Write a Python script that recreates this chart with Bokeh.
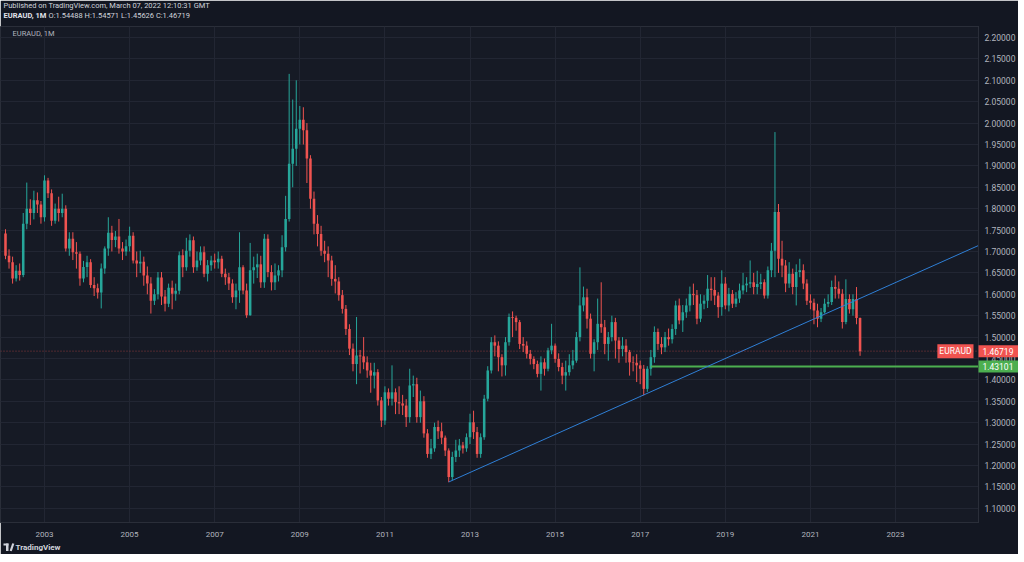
import numpy as np
import pandas as pd
from bokeh.plotting import figure
from bokeh.models import ColumnDataSource, Label, Span, FixedTicker, PrintfTickFormatter, Range1d
from bokeh.core.properties import value
from bokeh.embed import file_html
from bokeh.resources import INLINE

# ---------------- data (EURAUD monthly, Feb 2002 .. Mar 2022) ----------------
first_month = "2002-02-01"

opens = [
    1.742, 1.690, 1.675, 1.637, 1.655, 1.645, 1.765, 1.800, 1.790, 1.820, 1.810,
    1.780, 1.866, 1.836, 1.772, 1.800, 1.790, 1.800, 1.707, 1.730, 1.698, 1.695, 1.637,
    1.664, 1.675, 1.622, 1.614, 1.604, 1.660, 1.707, 1.744, 1.727, 1.735, 1.707, 1.700,
    1.712, 1.737, 1.679, 1.672, 1.676, 1.644, 1.625, 1.585, 1.600, 1.639, 1.595, 1.578,
    1.615, 1.601, 1.608, 1.691, 1.663, 1.702, 1.726, 1.663, 1.679, 1.698, 1.648, 1.668,
    1.679, 1.675, 1.683, 1.648, 1.640, 1.625, 1.593, 1.609, 1.663, 1.609, 1.551, 1.656,
    1.663, 1.670, 1.628, 1.730, 1.652, 1.628, 1.644, 1.656, 1.710, 1.776, 1.905, 1.940,
    1.987, 2.008, 1.983, 1.917, 1.823, 1.765, 1.741, 1.702, 1.695, 1.679, 1.636, 1.630,
    1.598, 1.566, 1.519, 1.473, 1.437, 1.457, 1.455, 1.441, 1.422, 1.410, 1.418, 1.352,
    1.305, 1.371, 1.356, 1.371, 1.348, 1.345, 1.340, 1.313, 1.387, 1.390, 1.313, 1.350,
    1.275, 1.227, 1.240, 1.290, 1.280, 1.265, 1.235, 1.173, 1.220, 1.235, 1.247, 1.240,
    1.266, 1.301, 1.278, 1.227, 1.266, 1.356, 1.422, 1.488, 1.480, 1.453, 1.434, 1.488,
    1.547, 1.545, 1.535, 1.484, 1.480, 1.461, 1.449, 1.437, 1.414, 1.441, 1.426, 1.469,
    1.480, 1.449, 1.430, 1.410, 1.418, 1.434, 1.445, 1.500, 1.574, 1.593, 1.543, 1.461,
    1.488, 1.531, 1.523, 1.484, 1.500, 1.535, 1.492, 1.472, 1.480, 1.465, 1.441, 1.440,
    1.434, 1.426, 1.379, 1.426, 1.453, 1.512, 1.484, 1.476, 1.500, 1.495, 1.519, 1.574,
    1.539, 1.558, 1.574, 1.601, 1.598, 1.543, 1.578, 1.585, 1.613, 1.610, 1.597, 1.570,
    1.625, 1.574, 1.601, 1.578, 1.590, 1.609, 1.621, 1.625, 1.628, 1.617, 1.624, 1.628,
    1.597, 1.656, 1.702, 1.792, 1.683, 1.667, 1.625, 1.648, 1.617, 1.652, 1.656, 1.625,
    1.585, 1.580, 1.562, 1.543, 1.558, 1.578, 1.582, 1.617, 1.613, 1.601, 1.535, 1.589,
    1.565, 1.589, 1.54488,
]

highs = [
    1.752, 1.705, 1.688, 1.668, 1.672, 1.790, 1.861, 1.822, 1.842, 1.838, 1.818,
    1.878, 1.872, 1.845, 1.812, 1.828, 1.835, 1.808, 1.745, 1.745, 1.722, 1.700, 1.678,
    1.690, 1.682, 1.640, 1.625, 1.672, 1.712, 1.780, 1.760, 1.748, 1.776, 1.722, 1.728,
    1.758, 1.745, 1.700, 1.702, 1.688, 1.665, 1.640, 1.612, 1.652, 1.652, 1.610, 1.625,
    1.632, 1.625, 1.700, 1.705, 1.732, 1.740, 1.735, 1.700, 1.712, 1.712, 1.680, 1.690,
    1.695, 1.700, 1.690, 1.660, 1.650, 1.635, 1.625, 1.745, 1.668, 1.625, 1.720, 1.688,
    1.695, 1.690, 1.741, 1.740, 1.668, 1.672, 1.668, 1.738, 1.830, 2.115, 2.055, 2.100,
    2.040, 2.037, 2.000, 1.925, 1.840, 1.785, 1.760, 1.725, 1.712, 1.690, 1.668, 1.640,
    1.610, 1.575, 1.530, 1.485, 1.547, 1.470, 1.500, 1.455, 1.440, 1.440, 1.425, 1.360,
    1.385, 1.380, 1.434, 1.380, 1.385, 1.365, 1.355, 1.426, 1.410, 1.405, 1.375, 1.362,
    1.285, 1.262, 1.300, 1.305, 1.300, 1.270, 1.240, 1.232, 1.260, 1.262, 1.255, 1.275,
    1.321, 1.328, 1.290, 1.275, 1.365, 1.432, 1.500, 1.504, 1.490, 1.460, 1.500, 1.555,
    1.560, 1.550, 1.540, 1.500, 1.490, 1.470, 1.455, 1.445, 1.455, 1.450, 1.475, 1.531,
    1.485, 1.462, 1.440, 1.445, 1.460, 1.470, 1.512, 1.663, 1.618, 1.613, 1.555, 1.495,
    1.590, 1.628, 1.540, 1.512, 1.550, 1.545, 1.500, 1.500, 1.495, 1.470, 1.455, 1.460,
    1.445, 1.435, 1.432, 1.470, 1.525, 1.520, 1.500, 1.512, 1.520, 1.530, 1.585, 1.590,
    1.575, 1.590, 1.618, 1.625, 1.610, 1.600, 1.598, 1.645, 1.640, 1.640, 1.605, 1.656,
    1.640, 1.615, 1.610, 1.605, 1.625, 1.650, 1.640, 1.679, 1.650, 1.655, 1.648, 1.635,
    1.665, 1.720, 1.979, 1.811, 1.725, 1.680, 1.675, 1.660, 1.670, 1.683, 1.670, 1.635,
    1.600, 1.590, 1.578, 1.568, 1.590, 1.600, 1.632, 1.644, 1.630, 1.612, 1.635, 1.600,
    1.600, 1.617, 1.54571,
]

lows = [
    1.682, 1.660, 1.625, 1.630, 1.632, 1.640, 1.752, 1.762, 1.775, 1.790, 1.765,
    1.770, 1.825, 1.760, 1.765, 1.770, 1.780, 1.700, 1.690, 1.680, 1.660, 1.620, 1.628,
    1.640, 1.615, 1.596, 1.590, 1.567, 1.648, 1.690, 1.700, 1.710, 1.695, 1.680, 1.690,
    1.700, 1.672, 1.640, 1.650, 1.620, 1.600, 1.555, 1.575, 1.588, 1.575, 1.560, 1.570,
    1.565, 1.585, 1.600, 1.640, 1.655, 1.688, 1.650, 1.655, 1.668, 1.640, 1.630, 1.655,
    1.660, 1.660, 1.640, 1.622, 1.610, 1.580, 1.565, 1.580, 1.600, 1.545, 1.550, 1.625,
    1.638, 1.615, 1.615, 1.640, 1.609, 1.610, 1.630, 1.640, 1.700, 1.770, 1.850, 1.900,
    1.950, 1.950, 1.860, 1.800, 1.740, 1.712, 1.690, 1.675, 1.640, 1.620, 1.602, 1.585,
    1.555, 1.505, 1.458, 1.420, 1.390, 1.415, 1.425, 1.405, 1.370, 1.380, 1.340, 1.290,
    1.295, 1.340, 1.340, 1.320, 1.320, 1.318, 1.290, 1.300, 1.360, 1.300, 1.300, 1.265,
    1.218, 1.215, 1.232, 1.262, 1.250, 1.222, 1.161, 1.165, 1.208, 1.220, 1.228, 1.232,
    1.250, 1.262, 1.218, 1.218, 1.260, 1.350, 1.415, 1.455, 1.420, 1.408, 1.410, 1.480,
    1.500, 1.515, 1.472, 1.465, 1.450, 1.436, 1.425, 1.406, 1.375, 1.410, 1.420, 1.460,
    1.440, 1.420, 1.390, 1.375, 1.410, 1.425, 1.440, 1.490, 1.560, 1.520, 1.450, 1.420,
    1.470, 1.510, 1.460, 1.445, 1.490, 1.450, 1.440, 1.455, 1.440, 1.410, 1.420, 1.395,
    1.390, 1.364, 1.372, 1.410, 1.440, 1.470, 1.460, 1.465, 1.480, 1.485, 1.505, 1.530,
    1.512, 1.545, 1.560, 1.575, 1.530, 1.535, 1.565, 1.568, 1.585, 1.575, 1.545, 1.550,
    1.565, 1.560, 1.568, 1.570, 1.580, 1.600, 1.605, 1.615, 1.600, 1.600, 1.612, 1.590,
    1.590, 1.640, 1.640, 1.650, 1.640, 1.605, 1.615, 1.600, 1.574, 1.640, 1.612, 1.575,
    1.565, 1.530, 1.523, 1.535, 1.555, 1.570, 1.575, 1.590, 1.590, 1.520, 1.530, 1.555,
    1.550, 1.530, 1.45626,
]

closes = [
    1.690, 1.675, 1.637, 1.655, 1.645, 1.765, 1.800, 1.790, 1.820, 1.810, 1.780,
    1.866, 1.836, 1.772, 1.800, 1.790, 1.800, 1.707, 1.730, 1.698, 1.695, 1.637, 1.664,
    1.675, 1.622, 1.614, 1.604, 1.660, 1.707, 1.744, 1.727, 1.735, 1.707, 1.700, 1.712,
    1.737, 1.679, 1.672, 1.676, 1.644, 1.625, 1.585, 1.600, 1.639, 1.595, 1.578, 1.615,
    1.601, 1.608, 1.691, 1.663, 1.702, 1.726, 1.663, 1.679, 1.698, 1.648, 1.668, 1.679,
    1.675, 1.683, 1.648, 1.640, 1.625, 1.593, 1.609, 1.663, 1.609, 1.551, 1.656, 1.663,
    1.670, 1.628, 1.730, 1.652, 1.628, 1.644, 1.656, 1.710, 1.776, 1.905, 1.940, 1.987,
    2.008, 1.983, 1.917, 1.823, 1.765, 1.741, 1.702, 1.695, 1.679, 1.636, 1.630, 1.598,
    1.566, 1.519, 1.473, 1.437, 1.457, 1.455, 1.441, 1.422, 1.410, 1.418, 1.352, 1.305,
    1.371, 1.356, 1.371, 1.348, 1.345, 1.340, 1.313, 1.387, 1.390, 1.313, 1.350, 1.275,
    1.227, 1.240, 1.290, 1.280, 1.265, 1.235, 1.173, 1.220, 1.235, 1.247, 1.240, 1.266,
    1.301, 1.278, 1.227, 1.266, 1.356, 1.422, 1.488, 1.480, 1.453, 1.434, 1.488, 1.547,
    1.545, 1.535, 1.484, 1.480, 1.461, 1.449, 1.437, 1.414, 1.441, 1.426, 1.469, 1.480,
    1.449, 1.430, 1.410, 1.418, 1.434, 1.445, 1.500, 1.574, 1.593, 1.543, 1.461, 1.488,
    1.531, 1.523, 1.484, 1.500, 1.535, 1.492, 1.472, 1.480, 1.465, 1.441, 1.440, 1.434,
    1.426, 1.379, 1.426, 1.453, 1.512, 1.484, 1.476, 1.500, 1.495, 1.519, 1.574, 1.539,
    1.558, 1.574, 1.601, 1.598, 1.543, 1.578, 1.585, 1.613, 1.610, 1.597, 1.570, 1.625,
    1.574, 1.601, 1.578, 1.590, 1.609, 1.621, 1.625, 1.628, 1.617, 1.624, 1.628, 1.597,
    1.656, 1.702, 1.792, 1.683, 1.667, 1.625, 1.648, 1.617, 1.652, 1.656, 1.625, 1.585,
    1.580, 1.562, 1.543, 1.558, 1.578, 1.582, 1.617, 1.613, 1.601, 1.535, 1.589, 1.565,
    1.589, 1.54488, 1.46719,
]

year_ticks = [2003, 2005, 2007, 2009, 2011, 2013, 2015, 2017, 2019, 2021, 2023]
price_ticks = [1.10, 1.15, 1.20, 1.25, 1.30, 1.35, 1.40, 1.45, 1.50, 1.55, 1.60, 1.65,
               1.70, 1.75, 1.80, 1.85, 1.90, 1.95, 2.00, 2.05, 2.10, 2.15, 2.20]

last_price = 1.46719
support_level = 1.43101
support_start = 2017.25          # Apr 2017
trend_x = [2012.5, 2024.95]      # trendline anchors (Jul 2012 low -> right edge)
trend_y = [1.1615, 1.714]

tag_texts = ["1.46719", "1.43101"]
tag_prices = [last_price, support_level]
tag_colors = ["#f05350", "#4caf50"]

header_1 = "Published on TradingView.com, March 07, 2022 12:10:31 GMT"
header_2a = "EURAUD, 1M"
header_2b = "O:1.54488 H:1.54571 L:1.45626 C:1.46719"
pane_title = "EURAUD, 1M"
footer = "TradingView"

# ---------------- build ----------------
dates = pd.date_range(first_month, periods=len(closes), freq="MS")
xs = np.asarray(dates.year + (dates.month - 1) / 12.0, dtype=float)
o = np.array(opens); c = np.array(closes); h = np.array(highs); l = np.array(lows)
UP, DOWN = "#26a69a", "#ef5350"
colors = [UP if cc >= oo else DOWN for oo, cc in zip(o, c)]

src = ColumnDataSource(dict(x=xs, high=h, low=l, top=np.maximum(o, c),
                            bottom=np.minimum(o, c), color=colors))

X0, X1 = 2001.966, 2024.95
Y0, Y1 = 1.0668, 2.2257
FW, FH = 978, 496
TOP = 26
px_x = (X1 - X0) / FW     # data units per pixel
px_y = (Y1 - Y0) / FH


def cx(px):   # canvas pixel -> data x (frame starts at canvas x = 0)
    return X0 + px * px_x


def cy(py):   # canvas pixel -> data y (frame starts at canvas y = TOP)
    return Y1 - (py - TOP) * px_y


p = figure(frame_width=FW, frame_height=FH, x_range=Range1d(X0, X1), y_range=Range1d(Y0, Y1),
           output_backend="svg", toolbar_location=None, title=None,
           y_axis_location="right", min_border_left=0, min_border_right=38,
           min_border_top=TOP, min_border_bottom=32)

p.background_fill_color = "#161a25"
p.border_fill_color = "#131722"
p.outline_line_color = "#2a2e39"

font = "Roboto"
# axes
p.yaxis.ticker = FixedTicker(ticks=price_ticks)
p.yaxis.formatter = PrintfTickFormatter(format="%.5f")
p.xaxis.ticker = FixedTicker(ticks=year_ticks)
p.xaxis.formatter = PrintfTickFormatter(format="%d")
for ax in (p.xaxis[0], p.yaxis[0]):
    ax.major_tick_line_color = None
    ax.minor_tick_line_color = None
    ax.major_tick_out = 0
    ax.major_tick_in = 0
    ax.minor_tick_out = 0
    ax.axis_line_color = "#2a2e39"
    ax.major_label_text_color = "#b2b5be"
    ax.major_label_text_font = font
p.yaxis.major_label_text_font_size = "8.5px"
p.yaxis.major_label_standoff = 6
p.xaxis.major_label_text_font_size = "8px"
p.xaxis.major_label_standoff = 9

p.xgrid.ticker = FixedTicker(ticks=year_ticks)
p.ygrid.ticker = FixedTicker(ticks=price_ticks)
for g in (p.xgrid[0], p.ygrid[0]):
    g.grid_line_color = "#222633"
    g.grid_line_width = 1

# candles
bar_w = 0.72 / 12
p.segment(x0="x", y0="low", x1="x", y1="high", line_color="color", line_width=1, source=src)
p.vbar(x="x", width=bar_w, top="top", bottom="bottom", fill_color="color",
       line_color=None, source=src)

# last price dotted line
p.add_layout(Span(location=last_price, dimension="width", line_color=DOWN,
                  line_alpha=0.55, line_width=1, line_dash="1 2"))
# support line
p.segment(x0=[support_start], y0=[support_level], x1=[X1], y1=[support_level],
          line_color="#4caf50", line_width=2)
# trendline
p.line(x=trend_x, y=trend_y, line_color="#2f7fd6", line_width=1)

# "EURAUD" tag inside the pane
p.add_layout(Label(x=FW - 5, y=last_price, x_units="screen", y_units="data", text="EURAUD",
                   text_font=font, text_font_size="8.5px", text_color="white",
                   text_align="right", text_baseline="middle",
                   background_fill_color="#f05350", padding=2))

# price tags on the price scale (overlay level glyphs are not clipped to the frame)
tsrc = ColumnDataSource(dict(y=tag_prices, text=tag_texts, color=tag_colors))
p.quad(left=X1, right=X1 + 42 * px_x, bottom=[v - 6 * px_y for v in tag_prices],
       top=[v + 6 * px_y for v in tag_prices], fill_color=tag_colors, line_color=None,
       level="overlay")
p.text(x=X1 + 4 * px_x, y="y", text="text", source=tsrc, text_font=value(font),
       text_font_size="8.5px", text_color="white", text_baseline="middle", level="overlay")

# header lines, footer (overlay text outside the pane)
def otext(t, px, py, size, color, style="normal"):
    p.text(x=[cx(px)], y=[cy(py)], text=[t], text_font=value(font), text_font_size=size,
           text_color=color, text_font_style=style, text_baseline="middle", level="overlay")

otext(header_1, 3, 5, "7.5px", "#d1d4dc")
otext(header_2a, 3, 15, "7.5px", "#e0e3eb", "bold")
otext(header_2b, 48, 15, "7.5px", "#d1d4dc")
otext(footer, 15, 546.5, "8px", "#d1d4dc", "bold")

# TradingView logo (small mark left of the footer text)
logo_c = "#d1d4dc"
p.quad(left=[cx(3)], right=[cx(8)], top=[cy(543)], bottom=[cy(545)], fill_color=logo_c,
       line_color=None, level="overlay")
p.quad(left=[cx(5.5)], right=[cx(8)], top=[cy(543)], bottom=[cy(550.5)], fill_color=logo_c,
       line_color=None, level="overlay")
p.scatter(x=[cx(10)], y=[cy(544.2)], size=2.6, marker="circle", fill_color=logo_c,
          line_color=None, level="overlay")
p.segment(x0=[cx(12.8)], y0=[cy(543)], x1=[cx(10.2)], y1=[cy(550.5)], line_color=logo_c,
          line_width=2.2, level="overlay")

# pane title
p.add_layout(Label(x=12, y=FH - 7, x_units="screen", y_units="screen", text=pane_title,
                   text_font=font, text_font_size="7.5px", text_color="#b2b5be",
                   text_baseline="middle"))

open("out.html", "w").write(file_html(p, INLINE))
